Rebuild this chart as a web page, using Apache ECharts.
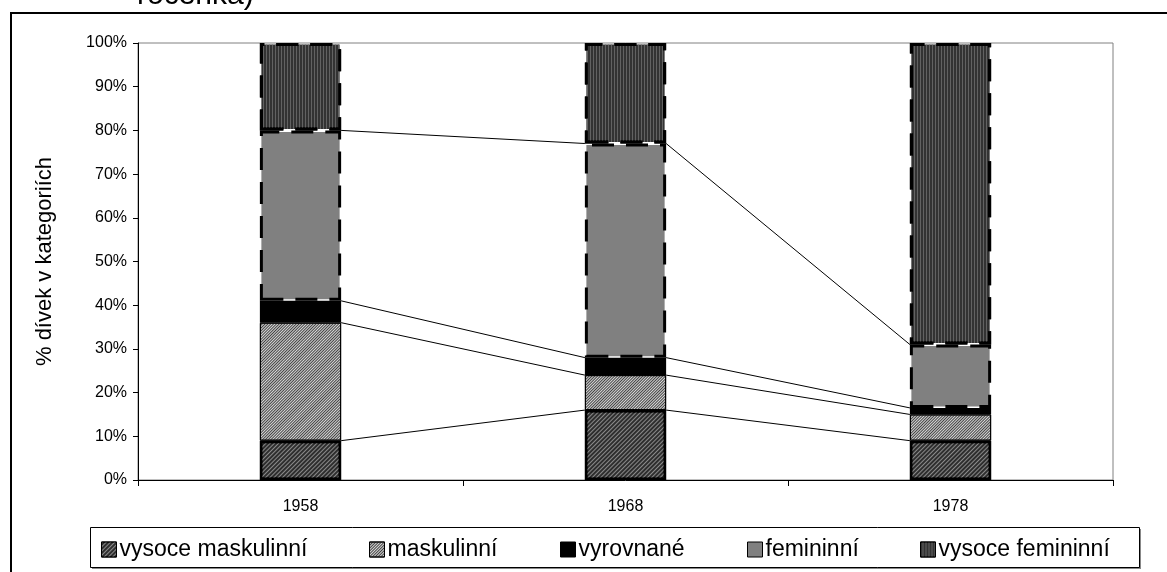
<!DOCTYPE html>
<html>
<head>
<meta charset="utf-8">
<script src="https://cdn.jsdelivr.net/npm/echarts@6/dist/echarts.min.js"></script>
<style>
html,body{margin:0;padding:0;background:#fff;}
#chart{width:1167px;height:572px;}
</style>
</head>
<body>
<div id="chart"></div>
<script>
var categories = ['1958', '1968', '1978'];
var seriesNames = ['vysoce maskulinní', 'maskulinní', 'vyrovnané', 'femininní', 'vysoce femininní'];
var vysoceMaskulinni = [9, 16, 9];
var maskulinni = [27, 8, 6];
var vyrovnane = [5, 4, 1.5];
var femininni = [39, 49, 14.5];
var vysoceFemininni = [20, 23, 69];
var yTicks = [0, 10, 20, 30, 40, 50, 60, 70, 80, 90, 100];
var seriesValues = [vysoceMaskulinni, maskulinni, vyrovnane, femininni, vysoceFemininni];

var FONT = '"Liberation Sans", Arial, sans-serif';
var BAR_FRAC = 0.25;

var styles = [
  { color: '#2e2e2e', borderColor: '#000', borderWidth: 2.5, borderType: 'solid',
    decal: { symbol: 'rect', symbolSize: 1, color: 'rgba(170,170,170,0.75)', dashArrayX: [1, 0], dashArrayY: [1, 2], rotation: -Math.PI / 4 } },
  { color: '#d8d8d8', borderColor: '#000', borderWidth: 1, borderType: 'solid',
    decal: { symbol: 'rect', symbolSize: 1, color: 'rgba(50,50,50,0.9)', dashArrayX: [1, 0], dashArrayY: [1, 1], rotation: -Math.PI / 4 } },
  { color: '#000000', borderColor: '#000', borderWidth: 2, borderType: 'solid' },
  { color: '#808080', borderColor: '#000', borderWidth: 3, borderType: [22, 12] },
  { color: '#333333', borderColor: '#000', borderWidth: 3, borderType: [22, 12],
    decal: { symbol: 'rect', symbolSize: 1, color: 'rgba(110,110,110,0.8)', dashArrayX: [1, 0], dashArrayY: [1, 1.5], rotation: Math.PI / 2 } }
];

var barSeries = seriesNames.map(function (name, k) {
  return {
    name: name,
    type: 'bar',
    stack: 'total',
    barWidth: (BAR_FRAC * 100) + '%',
    data: seriesValues[k],
    itemStyle: styles[k],
    emphasis: { disabled: true },
    z: 2 + (k >= 3 ? 1 : 0)
  };
});

var linkSeries = {
  type: 'custom',
  name: 'series lines',
  data: [[0, 0], [1, 0]],
  silent: true,
  clip: false,
  z: 5,
  renderItem: function (params, api) {
    var i = api.value(0);
    var halfW = api.size([1, 0])[0] * BAR_FRAC / 2;
    var children = [];
    var cumA = 0, cumB = 0;
    for (var s = 0; s < 4; s++) {
      cumA += seriesValues[s][i];
      cumB += seriesValues[s][i + 1];
      var p1 = api.coord([i, cumA]);
      var p2 = api.coord([i + 1, cumB]);
      children.push({
        type: 'line',
        shape: { x1: p1[0] + halfW, y1: p1[1], x2: p2[0] - halfW, y2: p2[1] },
        style: { stroke: '#000', lineWidth: 1 }
      });
    }
    return { type: 'group', children: children };
  }
};

var legendLefts = [101, 369, 560, 747, 920];
var legends = seriesNames.map(function (name, k) {
  return {
    data: [name],
    left: legendLefts[k],
    top: 538,
    padding: 0,
    itemWidth: 15,
    itemHeight: 15,
    itemGap: 0,
    selectedMode: false,
    icon: 'rect',
    itemStyle: { borderWidth: 1, borderColor: '#000', borderType: 'solid' },
    textStyle: { fontSize: 23, fontFamily: FONT, color: '#000', padding: [0, 0, 0, -2] }
  };
});

var chart = echarts.init(document.getElementById('chart'), null, { renderer: 'canvas' });
chart.setOption({
  animation: false,
  backgroundColor: '#fff',
  graphic: [
    { type: 'rect', z: -10, shape: { x: 11, y: 13, width: 1400, height: 800 },
      style: { fill: 'none', stroke: '#000', lineWidth: 2 } },
    { type: 'rect', z: -5, shape: { x: 92, y: 529, width: 1049, height: 40 },
      style: { fill: '#888', stroke: 'none' } },
    { type: 'rect', z: -4, shape: { x: 90.5, y: 527.5, width: 1049, height: 40 },
      style: { fill: '#fff', stroke: '#000', lineWidth: 1 } },
    { type: 'text', z: 1, x: 137, y: 11,
      style: { text: 'ročenka)', font: '30px ' + FONT, fill: '#000', textVerticalAlign: 'bottom', verticalAlign: 'bottom' } }
  ],
  grid: { left: 138, right: 54, top: 43, bottom: 92, show: true, borderColor: '#808080', borderWidth: 1, backgroundColor: 'transparent' },
  legend: legends,
  xAxis: {
    type: 'category',
    data: categories,
    axisLine: { lineStyle: { color: '#000', width: 1 } },
    axisTick: { show: true, length: 6, lineStyle: { color: '#000' } },
    axisLabel: { fontSize: 16, fontFamily: FONT, color: '#000', margin: 19 },
    splitLine: { show: false }
  },
  yAxis: {
    type: 'value',
    min: yTicks[0],
    max: yTicks[yTicks.length - 1],
    interval: yTicks[1] - yTicks[0],
    name: '% dívek v kategoriích',
    nameLocation: 'middle',
    nameGap: 82,
    nameTextStyle: { fontSize: 22, fontFamily: FONT, color: '#000' },
    axisLine: { show: true, lineStyle: { color: '#000', width: 1 } },
    axisTick: { show: true, length: 5, lineStyle: { color: '#000' } },
    axisLabel: { fontSize: 16, fontFamily: FONT, color: '#000', margin: 11, formatter: '{value}%' },
    splitLine: { show: false }
  },
  series: barSeries.concat([linkSeries])
});
</script>
</body>
</html>
